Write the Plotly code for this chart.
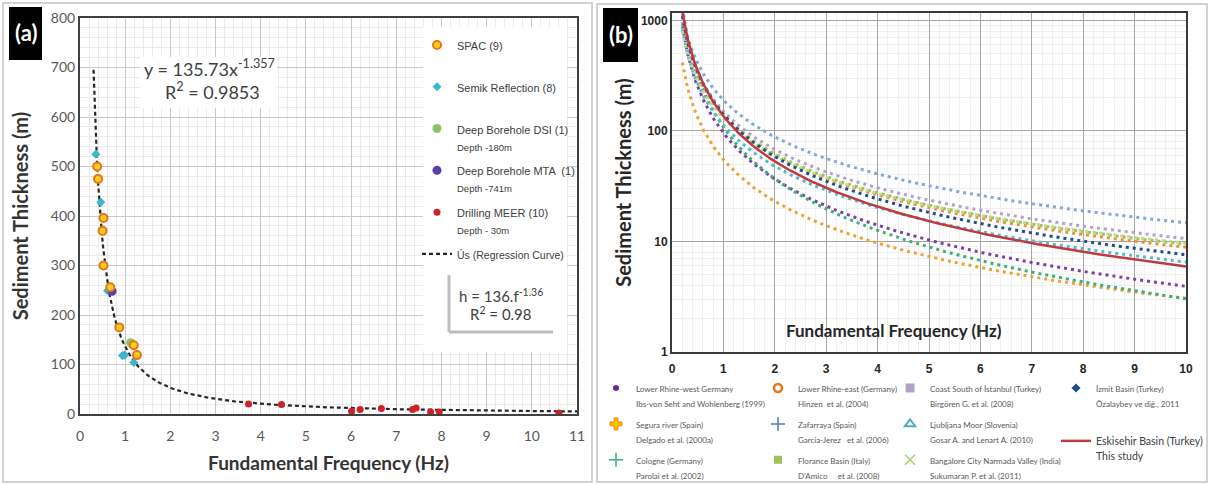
import numpy as np
import plotly.graph_objects as go

W, H = 1212, 485

# ---------------- panel (a): measured thickness vs fundamental frequency ----------------
spac_f = [0.38, 0.40, 0.50, 0.52, 0.52, 0.67, 0.87, 1.19, 1.26]
spac_h = [500, 475, 370, 396, 300, 256, 175, 139, 119]
seis_f = [0.35, 0.39, 0.46, 0.61, 0.64, 0.94, 0.99, 1.19]
seis_h = [525, 497, 428, 249, 251, 118, 119, 104]
dsi_f = [1.12]
dsi_h = [144]
mta_f = [0.71]
mta_h = [248]
meer_f = [3.73, 4.46, 6.01, 6.20, 6.67, 7.36, 7.44, 7.76, 7.95, 10.6]
meer_h = [20, 19, 5.4, 9, 11, 9, 12, 4, 4, 2]

# regression h = a * f^b shown on panel (a)
fit_a, fit_b = 135.73, -1.357
fit_f = np.linspace(0.30, 11, 300)

# ---------------- panel (b): published h = a * f^b relations ----------------
study_names = [
    "Lower Rhine-west Germany", "Segura river (Spain)", "Cologne (Germany)",
    "Lower Rhine-east (Germany)", "Zafarraya (Spain)", "Florance Basin (Italy)",
    "Coast South of İstanbul (Turkey)", "Ljubljana Moor (Slovenia)",
    "Bangalore City Narmada Valley (India)", "İzmit Basin (Turkey)",
]
study_refs = [
    "Ibs-von Seht and Wohlenberg (1999)", "Delgado et al. (2000a)", "Parolai et al. (2002)",
    "Hinzen  et al. (2004)", "Garcia-Jerez   et al. (2006)", "D'Amico     et al. (2008)",
    "Birgören G. et al. (2008)", "Gosar A. and Lenart A. (2010)",
    "Sukumaran P. et al. (2011)", "Özalaybey ve diğ., 2011",
]
study_a = [96.0, 55.1, 108.0, 137.0, 190.0, 140.0, 151.0, 113.0, 130.0, 141.0]
study_b = [-1.388, -1.256, -1.551, -1.19, -1.11, -1.172, -1.153, -1.24, -1.13, -1.27]
curve_colors = ["#7B3FA8", "#F0A030", "#3DAF7A", "#F28C3C", "#7FA9DA", "#9CC45A",
                "#B3A2C7", "#55B8D0", "#C2D88A", "#1F4E8C"]
legend_cols = ["legend2", "legend2", "legend2", "legend3", "legend3", "legend3",
               "legend4", "legend4", "legend4", "legend5"]

this_study = "Eskisehir Basin (Turkey)"
this_a, this_b = 136.0, -1.36
curve_f = np.linspace(0.2, 10, 300)

# pixel geometry of the two plot areas
AX0, AX1, AY0, AY1 = 80, 577, 18, 414
BX0, BX1, BY0, BY1 = 672, 1186, 13, 352


def px(x):
    return x / W


def py(y):
    return 1 - y / H


def ax_data(xp, yp):
    return (xp - AX0) / (AX1 - AX0) * 11, (AY1 - yp) / (AY1 - AY0) * 800


fig = go.Figure()

TITLE_FONT = "Lato"
NARROW = "Liberation Sans, Arial"


def small(text, size):
    return f"<span style='font-size:{size}px'>{text}</span>"


# ---- panel (a) traces ----
fig.add_trace(go.Scatter(
    x=fit_f, y=fit_a * fit_f ** fit_b, mode="lines",
    name=small("Ús (Regression Curve)", 10.5),
    line=dict(color="#262626", width=2.2, dash="4px,3px"),
    xaxis="x", yaxis="y", legend="legend", legendgroup="g6", legendrank=6))
fig.add_trace(go.Scatter(
    x=seis_f, y=seis_h, mode="markers", name=small("Semik Reflection (8)", 11) + "<br>\u00a0",
    marker=dict(symbol="diamond", size=7, color="#3FB6CF"),
    xaxis="x", yaxis="y", legend="legend", legendgroup="g2", legendrank=2))
fig.add_trace(go.Scatter(
    x=dsi_f, y=dsi_h, mode="markers",
    name=small("Deep Borehole DSI (1)", 11) + "<br>" + small("Depth -180m", 9.5),
    marker=dict(symbol="circle", size=9, color="#8DC26A"),
    xaxis="x", yaxis="y", legend="legend", legendgroup="g3", legendrank=3))
fig.add_trace(go.Scatter(
    x=mta_f, y=mta_h, mode="markers",
    name=small("Deep Borehole MTA  (1)", 11) + "<br>" + small("Depth -741m", 9.5),
    marker=dict(symbol="circle", size=9, color="#5A3FA8"),
    xaxis="x", yaxis="y", legend="legend", legendgroup="g4", legendrank=4))
fig.add_trace(go.Scatter(
    x=meer_f, y=meer_h, mode="markers",
    name=small("Drilling MEER (10)", 11) + "<br>" + small("Depth - 30m", 9.5),
    marker=dict(symbol="circle", size=7, color="#D0202A"),
    xaxis="x", yaxis="y", legend="legend", legendgroup="g5", legendrank=5))
fig.add_trace(go.Scatter(
    x=spac_f, y=spac_h, mode="markers", name=small("SPAC (9)", 11) + "<br>\u00a0",
    marker=dict(symbol="circle", size=8, color="#FFD020",
                line=dict(color="#E8731A", width=2)),
    xaxis="x", yaxis="y", legend="legend", legendgroup="g1", legendrank=1))

# ---- panel (b) curves ----
for a, b, c in zip(study_a, study_b, curve_colors):
    fig.add_trace(go.Scatter(
        x=curve_f, y=a * curve_f ** b, mode="lines", showlegend=False,
        line=dict(color=c, width=3, dash="3px,4px"), xaxis="x2", yaxis="y2",
        hoverinfo="skip"))

fig.add_trace(go.Scatter(
    x=curve_f, y=this_a * curve_f ** this_b, mode="lines",
    name=f"<span style='font-size:10.5px;color:#404040'>{this_study}<br>This study</span>",
    line=dict(color="#C0393B", width=2.5), xaxis="x2", yaxis="y2",
    legend="legend5", legendgroup="b11", legendrank=2))

# legend-only symbols for panel (b)
legend_markers = [
    dict(symbol="circle", size=6, color="#6A2C9A"),
    dict(symbol="cross", size=10, color="#FFC000", line=dict(color="#F08C20", width=1)),
    dict(symbol="cross-thin-open", size=10, color="#3DAF7A", line=dict(color="#3DAF7A", width=1.5)),
    dict(symbol="circle-open", size=8, color="#E8731A", line=dict(color="#E8731A", width=2.5)),
    dict(symbol="cross-thin-open", size=10, color="#4F81BD", line=dict(color="#4F81BD", width=1.5)),
    dict(symbol="square", size=8, color="#9CC45A"),
    dict(symbol="square", size=9, color="#B3A2C7"),
    dict(symbol="triangle-up-open", size=9, color="#4BACC6", line=dict(color="#4BACC6", width=2)),
    dict(symbol="x-thin-open", size=10, color="#A9CF6A", line=dict(color="#A9CF6A", width=1.5)),
    dict(symbol="diamond", size=7, color="#1F4E8C"),
]
for i, (n, r, m, lg) in enumerate(zip(study_names, study_refs, legend_markers, legend_cols)):
    fig.add_trace(go.Scatter(
        x=[None], y=[None], mode="markers", marker=m, xaxis="x2", yaxis="y2",
        name=small(f"{n}<br>{r}", 8),
        legend=lg, legendgroup=f"b{i}", legendrank=1 + i % 3 if lg != "legend5" else 1))

# ---------------- axes ----------------
tick_a = dict(family=TITLE_FONT, size=14, color="#595959")
tick_b = dict(family="Liberation Sans", size=12, color="#262626", weight="bold")
fig.update_layout(
    xaxis=dict(domain=[px(AX0), px(AX1)], range=[0, 11], dtick=1, tick0=0,
               showgrid=True, gridcolor="#C8C8C8", gridwidth=1,
               minor=dict(dtick=0.2, showgrid=True, gridcolor="#EBEBEB", gridwidth=1),
               showline=True, linecolor="#404040", linewidth=2, mirror=True,
               ticks="", tickfont=tick_a, zeroline=False, ticklabelstandoff=8,
               title=dict(text="Fundamental Frequency (Hz)", standoff=14,
                          font=dict(family=TITLE_FONT, size=19, color="#333333", weight="bold"))),
    yaxis=dict(domain=[py(AY1), py(AY0)], range=[0, 800], dtick=100, tick0=0,
               showgrid=True, gridcolor="#C8C8C8", gridwidth=1,
               minor=dict(dtick=20, showgrid=True, gridcolor="#EBEBEB", gridwidth=1),
               showline=True, linecolor="#404040", linewidth=2, mirror=True,
               ticks="", tickfont=tick_a, zeroline=False,
               title=dict(text="Sediment Thickness (m)", standoff=17,
                          font=dict(family=TITLE_FONT, size=20, color="#333333", weight="bold"))),
    xaxis2=dict(domain=[px(BX0), px(BX1)], range=[0, 10], dtick=1, tick0=0,
                anchor="y2", showgrid=True, gridcolor="#A6A6A6", gridwidth=1,
                minor=dict(dtick=0.2, showgrid=True, gridcolor="#F0F0F0", gridwidth=1),
                showline=True, linecolor="#3A3A3A", linewidth=2, mirror=True,
                ticks="", zeroline=False, ticklabelstandoff=5, tickfont=tick_b),
    yaxis2=dict(domain=[py(BY1), py(BY0)], type="log", range=[0, np.log10(1000) + 7.5 / 112.5],
                anchor="x2", tickvals=[1, 10, 100, 1000], ticktext=["1", "10", "100", "1000"],
                showgrid=True, gridcolor="#A6A6A6", gridwidth=1,
                minor=dict(dtick="D1", showgrid=True, gridcolor="#F0F0F0", gridwidth=1),
                showline=True, linecolor="#3A3A3A", linewidth=2, mirror=True,
                ticks="", zeroline=False, tickfont=tick_b,
                title=dict(text="Sediment Thickness (m)", standoff=4,
                           font=dict(family=TITLE_FONT, size=20, color="#262626", weight="bold"))),
)

# ---------------- legends ----------------
legend_b = dict(xanchor="left", yanchor="top", bgcolor="rgba(0,0,0,0)",
                font=dict(family=TITLE_FONT, size=11.5, color="#595959"),
                valign="top", traceorder="grouped", tracegroupgap=3,
                itemclick=False, itemdoubleclick=False)
fig.update_layout(
    showlegend=True,
    legend=dict(x=px(417), y=py(30), xanchor="left", yanchor="top",
                bgcolor="rgba(0,0,0,0)",
                font=dict(family=NARROW, size=13, color="#404040"),
                valign="top", traceorder="grouped", tracegroupgap=5),
    legend2=dict(x=px(596), y=py(374), **legend_b),
    legend3=dict(x=px(758), y=py(374), **legend_b),
    legend4=dict(x=px(890), y=py(374), **legend_b),
    legend5=dict(x=px(1056), y=py(374), **{**legend_b, "tracegroupgap": 20}),
)

# ---------------- shapes ----------------
shapes = [
    # panel frames
    dict(type="rect", xref="paper", yref="paper", x0=px(3), x1=px(592), y0=py(482), y1=py(3),
         line=dict(color="#C4C4C4", width=1.5)),
    dict(type="rect", xref="paper", yref="paper", x0=px(597), x1=px(1207), y0=py(482), y1=py(4),
         line=dict(color="#C4C4C4", width=1.5)),
    # panel tags
    dict(type="rect", xref="paper", yref="paper", x0=px(9), x1=px(42), y0=py(60), y1=py(7),
         fillcolor="black", line=dict(width=0)),
    dict(type="rect", xref="paper", yref="paper", x0=px(603), x1=px(638), y0=py(62), y1=py(8),
         fillcolor="black", line=dict(width=0)),
]
# white panels over the grid of (a)
for (xa, ya), (xb, yb) in [((423, 352), (567, 27)), ((140, 108), (277, 57)), ((449, 332), (553, 275))]:
    x0, y0 = ax_data(xa, ya)
    x1, y1 = ax_data(xb, yb)
    shapes.append(dict(type="rect", xref="x", yref="y", x0=x0, x1=x1, y0=y0, y1=y1,
                       fillcolor="white", line=dict(width=0), layer="between"))
# shadow edges of the formula box
sx0, sy0 = ax_data(449, 332)
sx1, sy1 = ax_data(553, 275)
shapes.append(dict(type="line", xref="x", yref="y", x0=sx0, x1=sx0, y0=sy0, y1=sy1,
                   line=dict(color="#BDBDBD", width=3)))
shapes.append(dict(type="line", xref="x", yref="y", x0=sx0, x1=sx1, y0=sy0, y1=sy0,
                   line=dict(color="#BDBDBD", width=3)))
fig.update_layout(shapes=shapes)

# ---------------- annotations ----------------
eq_font = dict(family=TITLE_FONT, size=18, color="#404040")
ann = [
    dict(text="<b>(a)</b>", x=px(25.5), y=py(33), font=dict(family=TITLE_FONT, size=22, color="white")),
    dict(text="<b>(b)</b>", x=px(620.5), y=py(35), font=dict(family=TITLE_FONT, size=22, color="white")),
    dict(text=f"y = {fit_a}x<sup>{fit_b}</sup>", x=px(210), y=py(68), font=eq_font),
    dict(text="R<sup>2</sup> = 0.9853", x=px(212), y=py(91), font=eq_font),
    dict(text=f"h = {this_a:.0f}.f<sup>{this_b}</sup>", x=px(501), y=py(295),
         font=dict(family=TITLE_FONT, size=15, color="#404040")),
    dict(text="R<sup>2</sup> = 0.98", x=px(501), y=py(313),
         font=dict(family=TITLE_FONT, size=15, color="#404040")),
    dict(text="<b>Fundamental Frequency (Hz)</b>", x=px(894), y=py(330),
         font=dict(family=TITLE_FONT, size=17, color="#262626")),
]
for a in ann:
    a.update(xref="paper", yref="paper", showarrow=False, xanchor="center", yanchor="middle")
fig.update_layout(annotations=ann)

fig.update_layout(width=W, height=H,
                  margin=dict(l=0, r=0, t=0, b=0, autoexpand=False),
                  paper_bgcolor="white", plot_bgcolor="white")

fig.write_html("out.html")
